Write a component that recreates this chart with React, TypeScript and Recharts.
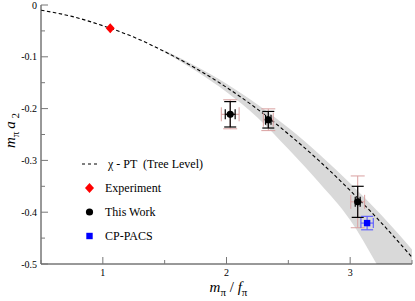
import React from "react";
import { ComposedChart, XAxis, YAxis, Line, Area, Scatter, ErrorBar, Legend } from "recharts";

// chi-PT tree level curve
const curveX = [0.5, 0.75, 1, 1.25, 1.5, 1.75, 2, 2.25, 2.5, 2.75, 3, 3.25, 3.5];
const curveY = [-0.010, -0.022, -0.040, -0.062, -0.090, -0.122, -0.159, -0.201, -0.249, -0.301, -0.358, -0.420, -0.487];

// grey band
const bandX = [1.5, 1.75, 2.0, 2.25, 2.5, 2.75, 3.0, 3.25, 3.5];
const bandHigh = [-0.088, -0.118, -0.152, -0.192, -0.237, -0.288, -0.344, -0.405, -0.472];
const bandLow = [-0.091, -0.127, -0.168, -0.217, -0.278, -0.343, -0.415, -0.515, -0.62];

const expX = [1.06];
const expY = [-0.045];

const workX = [2.03, 2.338, 3.061];
const workY = [-0.211, -0.2215, -0.380];
const workYErr = [0.0245, 0.016, 0.03];
const workYSys = [0.028, 0.021, 0.05];
const workXErr = [0.04, 0.022, 0.02];
const workXSys = [0.072, 0.04, 0.056];

const cpX = [3.137];
const cpY = [-0.421];
const cpYErr = [0.013];
const cpXErr = [0.05];

const xTicks = [0.5, 1, 1.5, 2, 2.5, 3, 3.5];
const yTicks = [0, -0.05, -0.1, -0.15, -0.2, -0.25, -0.3, -0.35, -0.4, -0.45, -0.5];

const curve = curveX.map((x, i) => ({ x, y: curveY[i] }));
const band = bandX.map((x, i) => ({ x, band: [bandLow[i], bandHigh[i]] }));
const experiment = expX.map((x, i) => ({ x, y: expY[i] }));
const thisWork = workX.map((x, i) => ({ x, y: workY[i], ey: workYErr[i], sy: workYSys[i], ex: workXErr[i], sx: workXSys[i] }));
const cpPacs = cpX.map((x, i) => ({ x, y: cpY[i], ey: cpYErr[i], ex: cpXErr[i] }));

const serif = "'Liberation Serif', 'Times New Roman', Times, 'Nimbus Roman', 'FreeSerif', 'DejaVu Serif', 'Noto Serif', serif";
const tickColor = "#777";

const BottomTick = (p: any) => {
	const v = p.payload.value;
	const major = Number.isInteger(v);
	return (
		<g>
			<line x1={p.x} y1={p.y} x2={p.x} y2={p.y - (major ? 7 : 4)} stroke={tickColor} />
			{major && (
				<text x={p.x} y={p.y + 11.5} textAnchor="middle" fontSize={10} fontFamily={serif} fill="#000">{v}</text>
			)}
		</g>
	);
};

const TopTick = (p: any) => {
	const major = Number.isInteger(p.payload.value);
	return <line x1={p.x} y1={p.y} x2={p.x} y2={p.y + (major ? 7 : 4)} stroke={tickColor} />;
};

const LeftTick = (p: any) => {
	const v = p.payload.value;
	const major = Math.abs(Math.round(v * 10) - v * 10) < 1e-6;
	return (
		<g>
			<line x1={p.x} y1={p.y} x2={p.x + (major ? 7 : 4)} y2={p.y} stroke={tickColor} />
			{major && (
				<text x={p.x - 4} y={p.y + 3.5} textAnchor="end" fontSize={10} fontFamily={serif} fill="#000">{v === 0 ? "0" : v.toFixed(1)}</text>
			)}
		</g>
	);
};

const RightTick = (p: any) => {
	const v = p.payload.value;
	const major = Math.abs(Math.round(v * 10) - v * 10) < 1e-6;
	return <line x1={p.x} y1={p.y} x2={p.x - (major ? 7 : 4)} y2={p.y} stroke={tickColor} />;
};

const XLabel = (p: any) => {
	const vb = p.viewBox;
	return (
		<text x={vb.x + vb.width / 2 + 2} y={vb.y + 28} textAnchor="middle" fontFamily={serif} fontSize={15} fill="#000">
			<tspan fontStyle="italic">m</tspan>
			<tspan fontSize={11} dy={4}>π</tspan>
			<tspan dy={-4}> / </tspan>
			<tspan fontStyle="italic">f</tspan>
			<tspan fontSize={11} dy={4}>π</tspan>
		</text>
	);
};

const YLabel = (p: any) => {
	const vb = p.viewBox;
	const cx = 15;
	const cy = vb.y + vb.height / 2 - 4;
	return (
		<text x={cx} y={cy} transform={`rotate(-90, ${cx}, ${cy})`} textAnchor="middle" fontFamily={serif} fontSize={15} fill="#000">
			<tspan fontStyle="italic">m</tspan>
			<tspan fontSize={11} dy={4}>π</tspan>
			<tspan dy={-4} dx={3} fontStyle="italic">a</tspan>
			<tspan fontSize={11} dy={4}> 2</tspan>
		</text>
	);
};

const Diamond = (p: any) => (
	<polygon points={`${p.cx},${p.cy - 5} ${p.cx + 4.5},${p.cy} ${p.cx},${p.cy + 5} ${p.cx - 4.5},${p.cy}`} fill="#ff0000" />
);
const Dot = (p: any) => <circle cx={p.cx} cy={p.cy} r={3.6} fill="#000" />;
const Square = (p: any) => <rect x={p.cx - 3.2} y={p.cy - 3.2} width={6.4} height={6.4} fill="#0000ff" />;

const legendRows = [
	{ label: "χ - PT  (Tree Level)", h: 18, icon: <line x1={4} y1={7} x2={19} y2={7} stroke="#000" strokeDasharray="3 3" /> },
	{ label: "Experiment", h: 24, icon: <polygon points="11.5,2 16,7 11.5,12 7,7" fill="#ff0000" /> },
	{ label: "This Work", h: 24, icon: <circle cx={11.5} cy={7} r={3.6} fill="#000" /> },
	{ label: "CP-PACS", h: 24, icon: <rect x={8.3} y={3.8} width={6.4} height={6.4} fill="#0000ff" /> },
];

const renderLegend = () => (
	<div style={{ fontFamily: serif, fontSize: 12, color: "#000" }}>
		{legendRows.map((r, i) => (
			<div key={i} style={{ height: i === 0 ? 14 : r.h, display: "flex", alignItems: "flex-end" }}>
				<div style={{ display: "flex", alignItems: "center", height: 14 }}>
					<svg width={23} height={14} style={{ display: "block" }}>{r.icon}</svg>
					<span style={{ marginLeft: i === 0 ? 7 : 4, whiteSpace: "pre" }}>{r.label}</span>
				</div>
			</div>
		))}
	</div>
);

export default function App() {
	return (
		<div style={{ position: "absolute", left: 0, top: 0, width: 415, height: 301, background: "#fff" }}>
			<ComposedChart width={415} height={301} margin={{ top: 5, right: 3, left: 0, bottom: 7 }}>
				<XAxis xAxisId={0} type="number" dataKey="x" domain={[0.5, 3.5]} ticks={xTicks} interval={0} height={30}
					stroke="#333" tickSize={0} tickMargin={0} tickLine={false} tick={BottomTick} label={XLabel} allowDataOverflow />
				<XAxis xAxisId="top" orientation="top" type="number" dataKey="x" domain={[0.5, 3.5]} ticks={xTicks} interval={0} height={0}
					stroke="#333" tickSize={0} tickMargin={0} tickLine={false} tick={TopTick} allowDataOverflow />
				<YAxis yAxisId={0} type="number" dataKey="y" domain={[-0.5, 0]} ticks={yTicks} interval={0} width={41}
					stroke="#333" tickSize={0} tickMargin={0} tickLine={false} tick={LeftTick} label={YLabel} allowDataOverflow />
				<YAxis yAxisId="right" orientation="right" type="number" domain={[-0.5, 0]} ticks={yTicks} interval={0} width={0}
					stroke="#333" tickSize={0} tickMargin={0} tickLine={false} tick={RightTick} allowDataOverflow />
				<Area data={band} dataKey="band" type="monotone" stroke="none" fill="#d9d9d9" fillOpacity={1} isAnimationActive={false} />
				<Line data={curve} dataKey="y" type="monotone" stroke="#000" strokeWidth={1.1} strokeDasharray="3.5 2.5" dot={false} isAnimationActive={false} />
				<Scatter data={experiment} dataKey="y" shape={Diamond} isAnimationActive={false} />
				<Scatter data={thisWork} dataKey="y" shape={Dot} isAnimationActive={false}>
					<ErrorBar dataKey="sy" direction="y" width={7} stroke="#d9a0a0" strokeWidth={1} />
					<ErrorBar dataKey="sx" direction="x" width={7} stroke="#d9a0a0" strokeWidth={1} />
					<ErrorBar dataKey="ey" direction="y" width={6} stroke="#000" strokeWidth={1.2} />
					<ErrorBar dataKey="ex" direction="x" width={5} stroke="#000" strokeWidth={1.2} />
				</Scatter>
				<Scatter data={cpPacs} dataKey="y" shape={Square} isAnimationActive={false}>
					<ErrorBar dataKey="ey" direction="y" width={6} stroke="#5a5aff" strokeWidth={1.1} />
					<ErrorBar dataKey="ex" direction="x" width={5} stroke="#5a5aff" strokeWidth={1.1} />
				</Scatter>
				<Legend layout="vertical" align="center" verticalAlign="middle" content={renderLegend}
					wrapperStyle={{ left: 78, top: 157, width: 170, height: 90 }} />
			</ComposedChart>
		</div>
	);
}
